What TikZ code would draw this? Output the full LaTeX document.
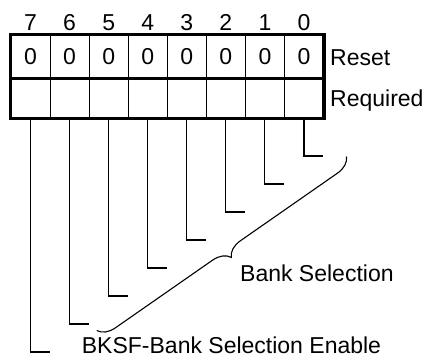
\documentclass[tikz,border=0pt]{standalone}
\usepackage{fontspec}
\setmainfont{Liberation Sans}
\usetikzlibrary{decorations.pathreplacing}
\begin{document}
\begin{tikzpicture}[x=1pt,y=-1pt,
  every node/.style={font=\fontsize{23}{27}\selectfont, inner sep=0pt},
  cell/.style={draw, line width=1pt, minimum width=39.0625pt},
  toprow/.style={cell, minimum height=43pt},
  botrow/.style={cell, minimum height=40pt},
  thick border/.style={line width=3.3pt},
  leader/.style={line width=1.1pt},
  bracestyle/.style={line width=1.1pt, decorate, decoration={brace, amplitude=17pt}}]
\useasboundingbox (0,0) rectangle (425,359);
\fill[white] (0,0) rectangle (425,359);
\foreach \b in {0,...,7}{
  \pgfmathsetmacro{\cx}{11+39.0625*(7-\b+0.5)}
  \pgfmathsetmacro{\ty}{156+28*\b}
  \node[toprow] (r\b) at (\cx,56.5) {0};
  \node[botrow] (q\b) at (\cx,98) {};
  \node[anchor=base] (n\b) at (\cx,30.5) {\b};
  \coordinate (t\b) at (\cx+19.5,\ty);
  \draw[leader] (q\b.south) |- (t\b);
}
\draw[thick border] (r7.north west) rectangle (q0.south east);
\draw[thick border] (r7.south west) -- (r0.south east);
\node[anchor=base west] (reset) at (330,65.5) {Reset};
\node[anchor=base west] (req) at (330,106.5) {Required};
\coordinate (b1) at (346.5,156.5);
\coordinate (b2) at (96.7,330.5);
\draw[bracestyle] (b1) -- (b2);
\node[anchor=base west] (bank) at (240,281) {Bank Selection};
\node[anchor=base west] (bksf) at (81.7,353.5) {BKSF-Bank Selection Enable};
\end{tikzpicture}
\end{document}
